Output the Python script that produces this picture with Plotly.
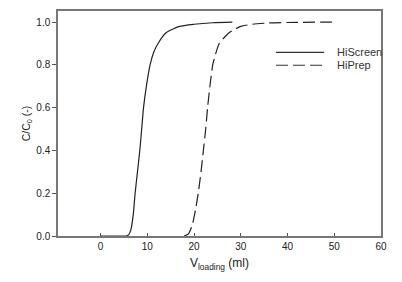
import plotly.graph_objects as go

# HiScreen breakthrough curve
hiscreen_x = [0, 3, 5.5, 6.0, 6.5, 7.0, 7.4, 7.9, 8.4, 8.8, 9.2, 9.8, 10.6, 11.4, 12.3, 14.0, 16.9, 20.0, 24.0, 28.2]
hiscreen_y = [0, 0, 0, 0.005, 0.03, 0.1, 0.2, 0.3, 0.4, 0.5, 0.6, 0.7, 0.8, 0.86, 0.9, 0.95, 0.98, 0.99, 0.997, 1.0]

# HiPrep breakthrough curve
hiprep_x = [17.9, 18.8, 19.6, 20.3, 20.9, 21.5, 22.0, 22.5, 22.9, 23.4, 24.0, 24.6, 25.4, 27.5, 30.0, 32.5, 36.0, 42.0, 49.5]
hiprep_y = [0, 0.01, 0.05, 0.12, 0.2, 0.3, 0.4, 0.5, 0.6, 0.7, 0.8, 0.85, 0.9, 0.95, 0.98, 0.99, 0.996, 0.999, 1.0]

series_names = ["HiScreen", "HiPrep"]
x_ticks = [0, 10, 20, 30, 40, 50, 60]
y_ticks = [0.0, 0.2, 0.4, 0.6, 0.8, 1.0]

line_color = "#222222"
dash_style = "12px,5px"

fig = go.Figure()
fig.add_trace(go.Scatter(x=hiscreen_x, y=hiscreen_y, mode="lines", name=series_names[0],
                         line=dict(color=line_color, width=1.2, shape="spline", smoothing=0.6)))
fig.add_trace(go.Scatter(x=hiprep_x, y=hiprep_y, mode="lines", name=series_names[1],
                         line=dict(color=line_color, width=1.2, shape="spline", smoothing=0.6,
                                   dash=dash_style)))

# Manual legend (samples + labels) in paper coordinates
legend_rows = [0.816, 0.759]
legend_dash = ["solid", dash_style]
for name, yy, dsh in zip(series_names, legend_rows, legend_dash):
    fig.add_shape(type="line", xref="paper", yref="paper", x0=0.675, x1=0.824, y0=yy, y1=yy,
                  line=dict(color="#333333", width=1.2, dash=dsh))
    fig.add_annotation(xref="paper", yref="paper", x=0.858, y=yy, xanchor="left", yanchor="middle",
                       text=name, showarrow=False, font=dict(size=11, color="#333333"))

font_family = "Liberation Sans, Arial, sans-serif"
fig.update_layout(
    width=394, height=274,
    margin=dict(l=50, r=21, t=1, b=46),
    paper_bgcolor="white", plot_bgcolor="white",
    font=dict(family=font_family, size=10, color="#222222"),
    showlegend=False,
    xaxis=dict(range=[-9.1, 60], tickvals=x_ticks, ticktext=[str(v) for v in x_ticks],
               ticks="inside", ticklen=3, tickcolor="#555555", tickwidth=1,
               showline=True, linecolor="#777777", linewidth=1.5, mirror=True,
               showgrid=False, zeroline=False,
               title=dict(text="V<sub>loading</sub> (ml)", font=dict(size=12), standoff=8)),
    yaxis=dict(range=[0, 1.052], tickvals=y_ticks, ticktext=["%.1f" % v for v in y_ticks],
               ticks="outside", ticklen=4, tickcolor="#555555", tickwidth=1,
               showline=True, linecolor="#777777", linewidth=1.5, mirror=True,
               showgrid=False, zeroline=False,
               title=dict(text="C/C<sub>0</sub> (-)", font=dict(size=10.5), standoff=4)),
)

fig.write_html("out.html")
